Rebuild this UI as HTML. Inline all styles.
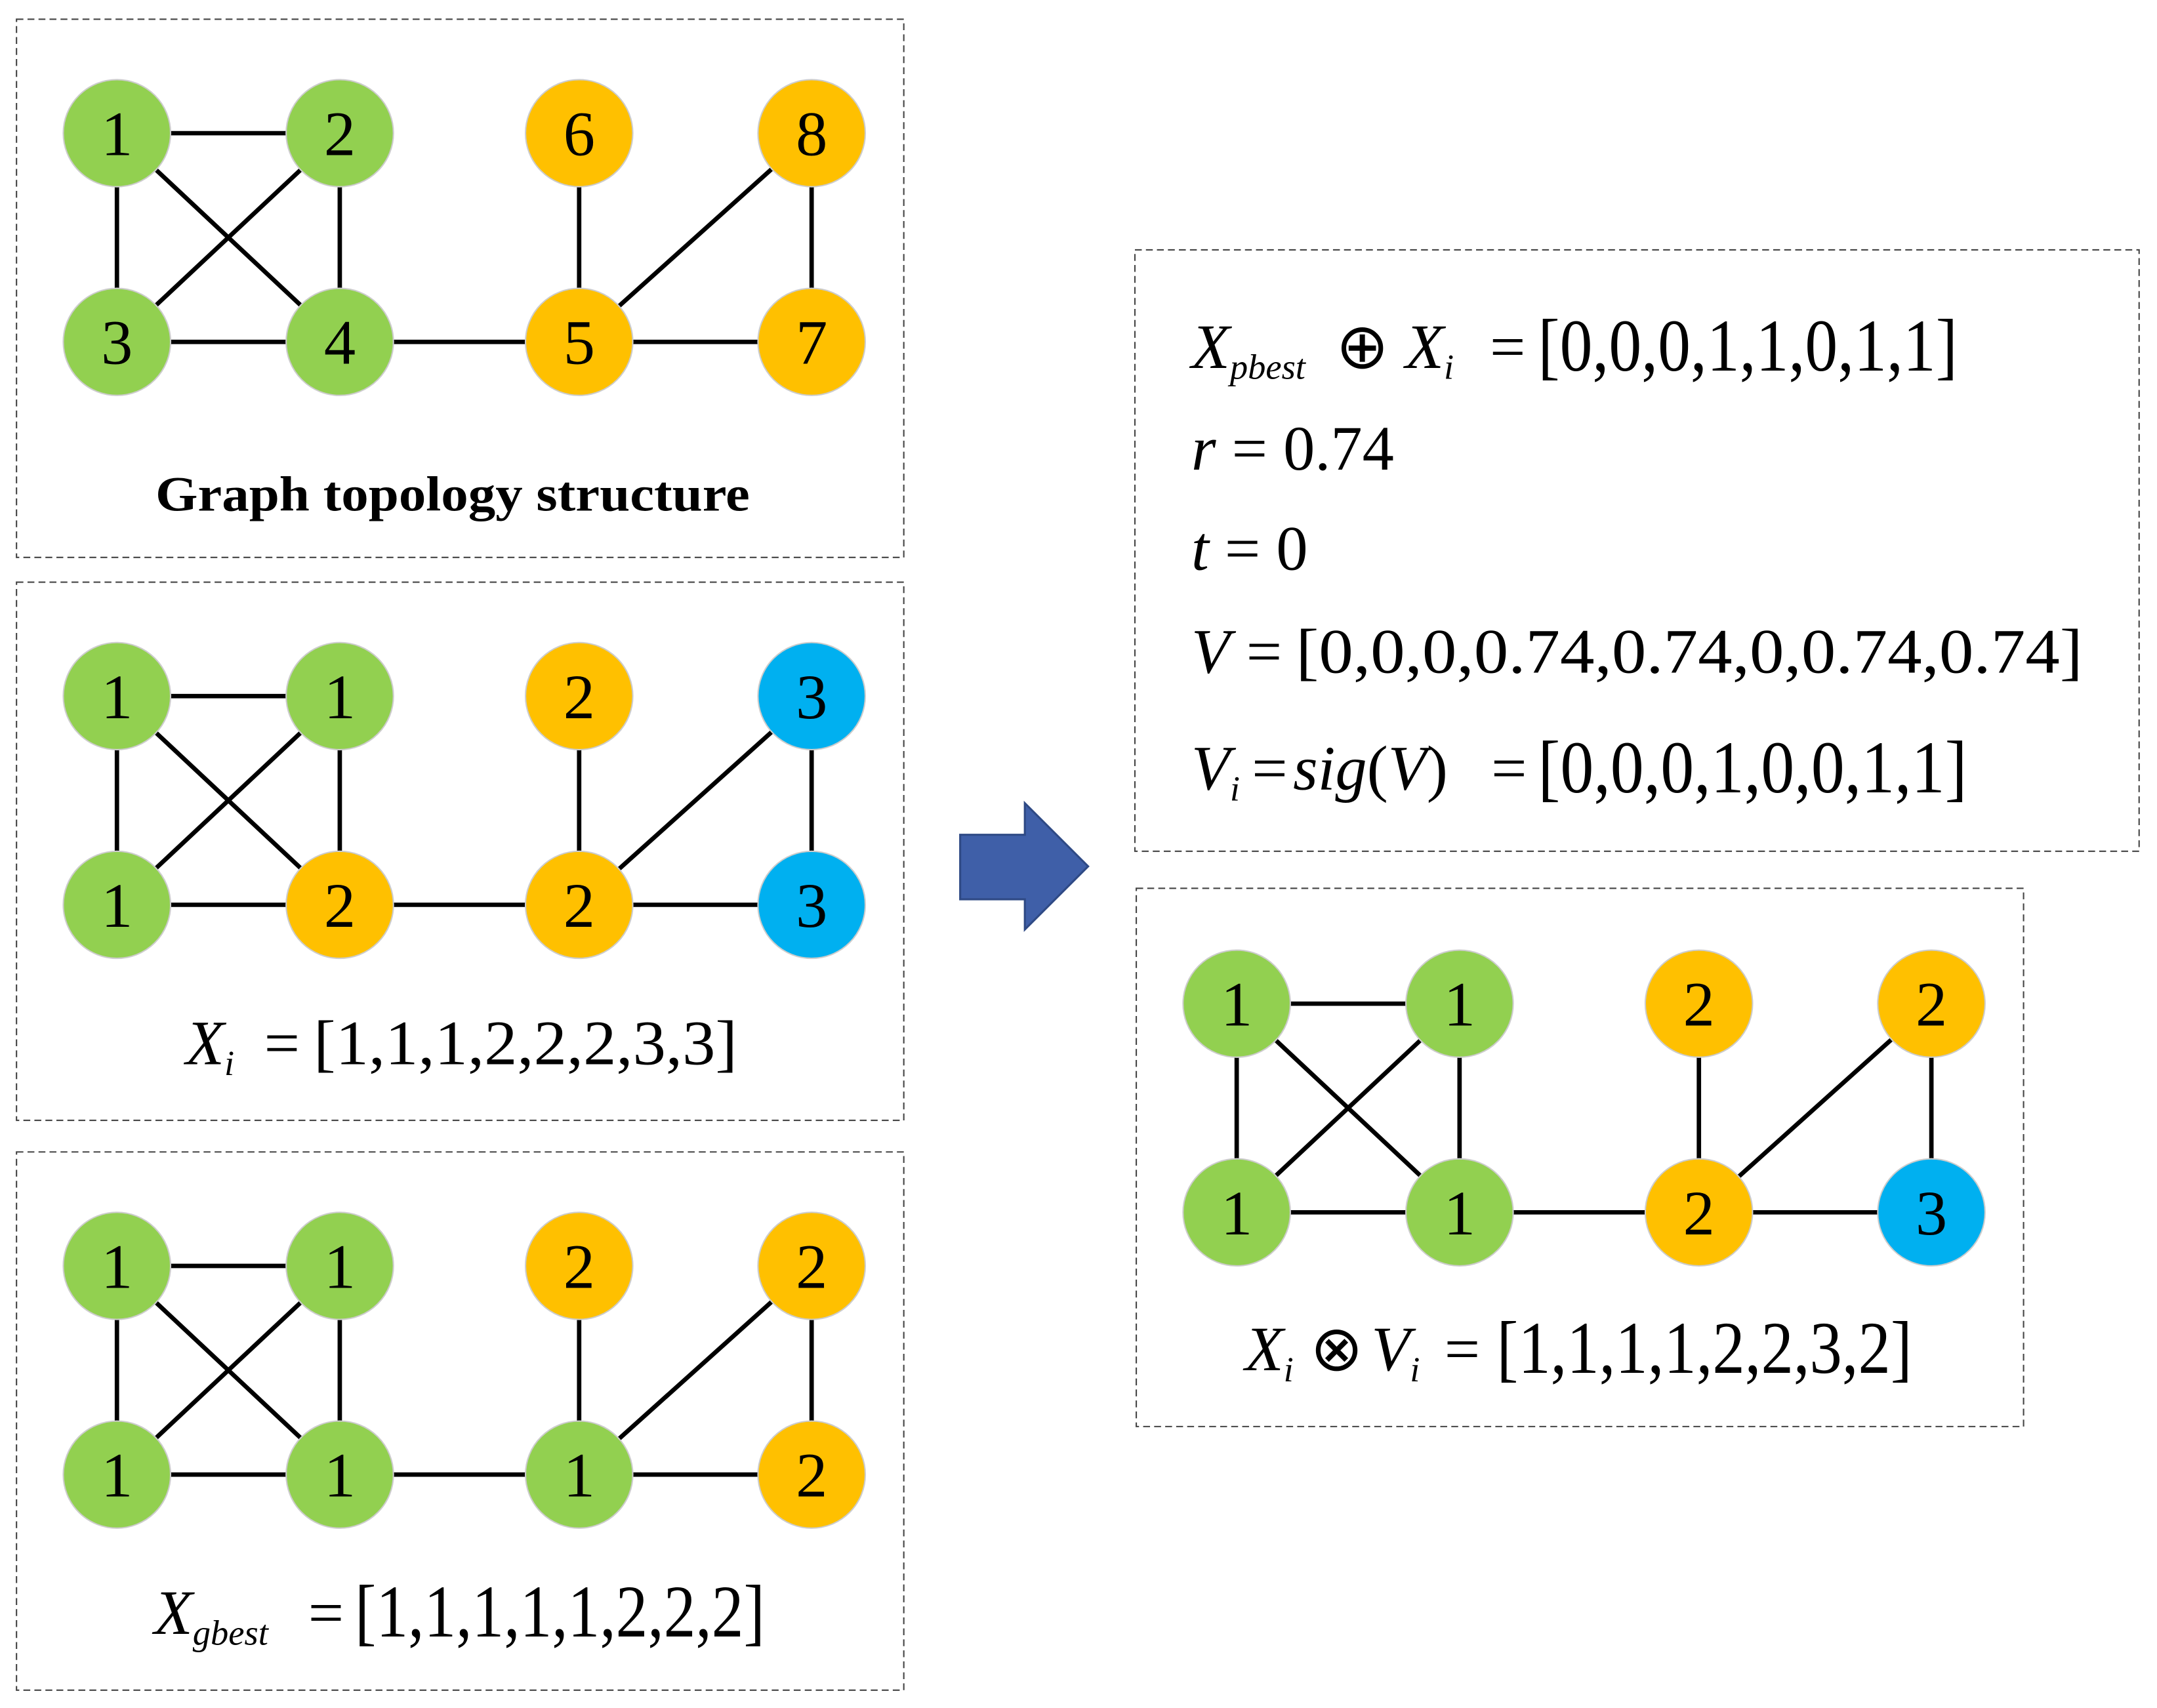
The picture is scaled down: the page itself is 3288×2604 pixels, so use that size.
<!DOCTYPE html>
<html><head><meta charset="utf-8"><style>html,body{margin:0;padding:0;background:#fff}svg{display:block}text{font-family:"Liberation Serif",serif}</style></head>
<body>
<svg width="3288" height="2604" viewBox="0 0 1568 1244" preserveAspectRatio="none" xmlns="http://www.w3.org/2000/svg">
<defs>
<g id="graph">
<g stroke="#000" stroke-width="3.2" stroke-linecap="round">
<line x1="85" y1="97" x2="247" y2="97"/><line x1="85" y1="97" x2="85" y2="249"/>
<line x1="85" y1="97" x2="247" y2="249"/><line x1="247" y1="97" x2="85" y2="249"/>
<line x1="247" y1="97" x2="247" y2="249"/><line x1="85" y1="249" x2="247" y2="249"/>
<line x1="247" y1="249" x2="421" y2="249"/><line x1="421" y1="97" x2="421" y2="249"/>
<line x1="421" y1="249" x2="590" y2="97"/><line x1="421" y1="249" x2="590" y2="249"/>
<line x1="590" y1="97" x2="590" y2="249"/>
</g></g>
</defs>
<g fill="none" stroke="#444" stroke-width="1" stroke-dasharray="5,3">
<rect x="12" y="14" width="645" height="392"/>
<rect x="12" y="424" width="645" height="392"/>
<rect x="12" y="839" width="645" height="392"/>
<rect x="825" y="182" width="730" height="438"/>
<rect x="826" y="647" width="645" height="392"/>
</g>
<g font-size="46" text-anchor="middle">
<use href="#graph"/>
<g stroke="#ccc" stroke-width="1">
<circle cx="85" cy="97" r="39" fill="#92D050"/><circle cx="247" cy="97" r="39" fill="#92D050"/>
<circle cx="421" cy="97" r="39" fill="#FFC000"/><circle cx="590" cy="97" r="39" fill="#FFC000"/>
<circle cx="85" cy="249" r="39" fill="#92D050"/><circle cx="247" cy="249" r="39" fill="#92D050"/>
<circle cx="421" cy="249" r="39" fill="#FFC000"/><circle cx="590" cy="249" r="39" fill="#FFC000"/>
</g>
<text x="85" y="113">1</text><text x="247" y="113">2</text><text x="421" y="113">6</text><text x="590" y="113">8</text>
<text x="85" y="265">3</text><text x="247" y="265">4</text><text x="421" y="265">5</text><text x="590" y="265">7</text>
<text x="329" y="372" font-weight="bold" font-size="36" textLength="432" lengthAdjust="spacingAndGlyphs">Graph topology structure</text>
<g transform="translate(0,410)">
<use href="#graph"/>
<g stroke="#ccc" stroke-width="1">
<circle cx="85" cy="97" r="39" fill="#92D050"/><circle cx="247" cy="97" r="39" fill="#92D050"/>
<circle cx="421" cy="97" r="39" fill="#FFC000"/><circle cx="590" cy="97" r="39" fill="#00B0F0"/>
<circle cx="85" cy="249" r="39" fill="#92D050"/><circle cx="247" cy="249" r="39" fill="#FFC000"/>
<circle cx="421" cy="249" r="39" fill="#FFC000"/><circle cx="590" cy="249" r="39" fill="#00B0F0"/>
</g>
<text x="85" y="113">1</text><text x="247" y="113">1</text><text x="421" y="113">2</text><text x="590" y="113">3</text>
<text x="85" y="265">1</text><text x="247" y="265">2</text><text x="421" y="265">2</text><text x="590" y="265">3</text>
</g>
<g transform="translate(0,825)">
<use href="#graph"/>
<g stroke="#ccc" stroke-width="1">
<circle cx="85" cy="97" r="39" fill="#92D050"/><circle cx="247" cy="97" r="39" fill="#92D050"/>
<circle cx="421" cy="97" r="39" fill="#FFC000"/><circle cx="590" cy="97" r="39" fill="#FFC000"/>
<circle cx="85" cy="249" r="39" fill="#92D050"/><circle cx="247" cy="249" r="39" fill="#92D050"/>
<circle cx="421" cy="249" r="39" fill="#92D050"/><circle cx="590" cy="249" r="39" fill="#FFC000"/>
</g>
<text x="85" y="113">1</text><text x="247" y="113">1</text><text x="421" y="113">2</text><text x="590" y="113">2</text>
<text x="85" y="265">1</text><text x="247" y="265">1</text><text x="421" y="265">1</text><text x="590" y="265">2</text>
</g>
<g transform="translate(814,634)">
<use href="#graph"/>
<g stroke="#ccc" stroke-width="1">
<circle cx="85" cy="97" r="39" fill="#92D050"/><circle cx="247" cy="97" r="39" fill="#92D050"/>
<circle cx="421" cy="97" r="39" fill="#FFC000"/><circle cx="590" cy="97" r="39" fill="#FFC000"/>
<circle cx="85" cy="249" r="39" fill="#92D050"/><circle cx="247" cy="249" r="39" fill="#92D050"/>
<circle cx="421" cy="249" r="39" fill="#FFC000"/><circle cx="590" cy="249" r="39" fill="#00B0F0"/>
</g>
<text x="85" y="113">1</text><text x="247" y="113">1</text><text x="421" y="113">2</text><text x="590" y="113">2</text>
<text x="85" y="265">1</text><text x="247" y="265">1</text><text x="421" y="265">2</text><text x="590" y="265">3</text>
</g>
</g>
<polygon points="698,608 745,608 745,585 791,631 745,677 745,655 698,655" fill="#3F5FA8" stroke="#2F4A85" stroke-width="1.5"/>
<g font-size="46">
<text x="135" y="775"><tspan font-style="italic">X</tspan><tspan font-style="italic" font-size="26" dy="8">i</tspan></text>
<text x="192" y="775">=</text>
<text x="228" y="775" textLength="308" lengthAdjust="spacingAndGlyphs">[1,1,1,2,2,2,3,3]</text>
<text x="112" y="1190"><tspan font-style="italic">X</tspan><tspan font-style="italic" font-size="26" dy="8">gbest</tspan></text>
<text x="224" y="1190">=</text>
<text x="258" y="1192" font-size="54" textLength="298" lengthAdjust="spacingAndGlyphs">[1,1,1,1,1,2,2,2]</text>
<text x="905" y="998"><tspan font-style="italic">X</tspan><tspan font-style="italic" font-size="26" dy="8">i</tspan><tspan dy="-8" dx="12">⊗</tspan><tspan font-style="italic" dx="6">V</tspan><tspan font-style="italic" font-size="26" dy="8">i</tspan></text>
<text x="1050" y="998">=</text>
<text x="1088" y="1000" font-size="54" textLength="302" lengthAdjust="spacingAndGlyphs">[1,1,1,1,2,2,3,2]</text>

<text x="866" y="268"><tspan font-style="italic">X</tspan><tspan font-style="italic" font-size="26" dy="8">pbest</tspan><tspan dy="-8" dx="22">⊕</tspan><tspan font-style="italic" dx="12">X</tspan><tspan font-style="italic" font-size="26" dy="8">i</tspan></text>
<text x="1083" y="268">=</text>
<text x="1118" y="270" font-size="54" textLength="305" lengthAdjust="spacingAndGlyphs">[0,0,0,1,1,0,1,1]</text>
<text x="866" y="342"><tspan font-style="italic">r</tspan> = 0.74</text>
<text x="866" y="415"><tspan font-style="italic">t</tspan> = 0</text>
<text x="866" y="490"><tspan font-style="italic">V</tspan></text>
<text x="906" y="490">=</text>
<text x="942" y="490" textLength="572" lengthAdjust="spacingAndGlyphs">[0,0,0,0.74,0.74,0,0.74,0.74]</text>
<text x="866" y="575"><tspan font-style="italic">V</tspan><tspan font-style="italic" font-size="26" dy="8">i</tspan></text>
<text x="910" y="575">=</text>
<text x="940" y="575"><tspan font-style="italic">sig</tspan>(<tspan font-style="italic">V</tspan>)</text>
<text x="1084" y="575">=</text>
<text x="1118" y="577" font-size="54" textLength="312" lengthAdjust="spacingAndGlyphs">[0,0,0,1,0,0,1,1]</text>
</g>
</svg>
</body></html>
